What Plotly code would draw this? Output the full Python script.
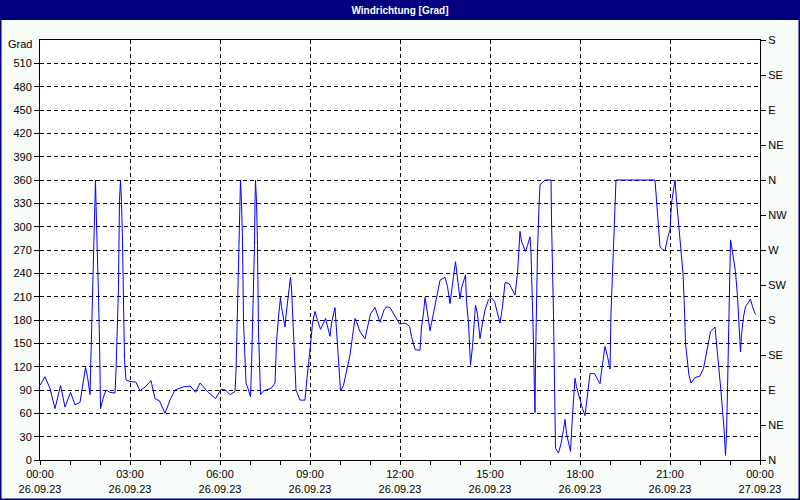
import pandas as pd
import plotly.graph_objects as go

# ---- data: minutes after 26.09.23 00:00 and wind direction in degrees ----
minutes = [
    0, 10, 20, 30, 41, 50, 61, 70, 80, 85, 91, 95, 100, 101, 103, 105, 107, 109, 111, 112,
    115, 117, 119, 120, 121, 127, 132, 140, 150, 152, 155, 157, 158, 159, 161, 163, 165, 167,
    169, 172, 180, 192, 200, 212, 222, 230, 239, 250, 260, 270, 287, 300,
    302, 311, 320, 335, 351, 362, 371, 380, 390, 392, 394, 396, 398, 399, 401, 403, 405, 407,
    410, 412, 417, 421, 423, 425, 427, 429, 430, 431, 433, 435, 437, 439, 441, 447, 462, 470,
    473, 477, 481, 483, 487, 490, 492, 497, 501, 503, 506, 509, 512, 520, 530, 533, 537, 541,
    545, 550, 554, 561, 571, 575, 580, 583,
    590, 593, 597, 601, 607, 613, 620, 625, 630, 633, 640, 650, 657, 661, 670, 680, 688, 693,
    700, 710, 719, 730, 739, 743, 750, 760, 763, 767, 770, 773, 777, 780, 783, 790, 795, 800,
    810, 815, 820, 823, 827, 831, 833, 837, 840, 843, 851, 853, 857, 860, 861, 865, 868, 871,
    875,
    880, 885, 890, 897, 902, 909, 913, 920, 925, 930, 938, 945, 950, 955, 957, 960, 963, 971,
    975, 980, 982, 985, 987, 989, 990, 991, 993, 995, 998, 1000, 1007, 1010, 1022, 1023, 1027,
    1029, 1031, 1037, 1042, 1047, 1050, 1053, 1059, 1061, 1065, 1067, 1070, 1073, 1080, 1085,
    1090, 1095, 1100, 1109, 1115, 1120, 1123, 1127, 1130, 1135, 1140, 1142, 1145, 1147, 1150,
    1152,
    1230, 1233, 1237, 1240, 1245, 1250, 1255, 1260, 1263, 1267, 1270, 1273, 1278, 1282, 1286,
    1289, 1291, 1295, 1298, 1302, 1310, 1320, 1327, 1331, 1337, 1341, 1350, 1353, 1358, 1362,
    1365, 1368, 1371, 1373, 1375, 1377, 1379, 1381, 1383, 1387, 1391, 1395, 1398, 1401, 1403,
    1407, 1411, 1417, 1421, 1425, 1431,
]
degrees = [
    96, 107, 92, 66, 96, 68, 87, 71, 74, 94, 119, 107, 84, 111, 165, 221, 276, 330, 360, 330,
    272, 210, 154, 94, 66, 81, 90, 87, 86, 114, 167, 223, 281, 334, 360, 332, 281, 180,
    129, 103, 101, 100, 89, 95, 102, 79, 76, 60, 77, 90, 94, 95,
    94, 87, 99, 88, 79, 91, 90, 84, 88, 114, 167, 223, 279, 332, 360, 332, 281, 178,
    126, 99, 90, 81, 120, 167, 221, 276, 332, 360, 332, 276, 165, 109, 84, 89, 92, 99,
    152, 184, 209, 197, 182, 171, 186, 214, 235, 221, 171, 124, 90, 77, 77, 99, 129, 148,
    176, 191, 182, 168, 182, 171, 159, 176,
    196, 167, 120, 89, 96, 114, 135, 159, 182, 178, 165, 156, 178, 188, 196, 177, 193, 197,
    196, 185, 175, 176, 172, 159, 142, 141, 171, 189, 209, 197, 180, 166, 176, 197, 214, 231,
    235, 223, 201, 219, 236, 255, 242, 223, 207, 221, 238, 204, 176, 146, 122, 146, 176, 199,
    188,
    156, 176, 193, 206, 209, 204, 193, 176, 197, 228, 227, 219, 212, 240, 270, 294, 281, 268,
    276, 287, 266, 210, 150, 82, 61, 124, 210, 270, 326, 354, 358, 360, 360, 309, 186,
    120, 15, 9, 21, 39, 52, 34, 19, 11, 58, 77, 105, 94, 77, 66,
    57, 81, 111, 111, 103, 98, 114, 133, 146, 133, 117, 189, 240, 296, 336,
    360,
    360, 332, 300, 274, 271, 269, 285, 296, 330, 347, 360, 334, 300, 266, 240,
    193, 150, 126, 109, 99, 106, 108, 118, 131, 150, 165, 171, 152, 120, 88,
    64, 41, 6, 34, 90, 144, 197, 283, 276, 261, 242, 210, 178, 139, 161,
    184, 197, 204, 207, 197, 187,
]

left_ticks = list(range(0, 540, 30))
compass_vals = list(range(0, 541, 45))
compass_text = ["N", "NE", "E", "SE", "S", "SW", "W", "NW", "N", "NE", "E", "SE", "S"]

start = pd.Timestamp("2023-09-26 00:00")
times = [start + pd.Timedelta(minutes=m) for m in minutes]

NAVY = "#000080"
FONT = "Liberation Sans, Arial, sans-serif"

fig = go.Figure()
fig.add_trace(go.Scatter(x=times, y=degrees, mode="lines",
                         line=dict(color="#0000ff", width=1), showlegend=False))
# empty trace so that the right-hand compass axis is drawn
fig.add_trace(go.Scatter(x=[], y=[], yaxis="y2", mode="lines", showlegend=False,
                         hoverinfo="skip"))

fig.update_layout(
    width=800, height=500,
    margin=dict(l=40, r=40, t=40, b=40, autoexpand=False),
    paper_bgcolor="#f8fcf8",
    plot_bgcolor="#ffffff",
    font=dict(family=FONT, size=11, color="#000000"),
    title=dict(text="<b>Windrichtung [Grad]</b>", x=0.5, xanchor="center",
               y=0.98, yanchor="middle", yref="container",
               font=dict(family="Liberation Sans Narrow, " + FONT, size=10, color="#ffffff")),
    xaxis=dict(
        type="date",
        range=[start, start + pd.Timedelta(hours=24)],
        dtick=3 * 3600000,
        tick0=start,
        tickformat="%H:%M<br>%d.%m.%y",
        ticks="outside", ticklen=4, tickcolor="#000000",
        showline=True, linecolor="#000000", linewidth=1, mirror=True,
        showgrid=True, gridcolor="#000000", gridwidth=1, griddash="4px,3px",
        minor=dict(dtick=3600000, ticks="outside", ticklen=4, tickcolor="#000000", showgrid=False),
        zeroline=False, fixedrange=True, automargin=False,
    ),
    yaxis=dict(
        range=[0, 540],
        tickvals=left_ticks,
        ticks="outside", ticklen=5, tickcolor="#000000",
        showline=True, linecolor="#000000", linewidth=1,
        showgrid=True, gridcolor="#000000", gridwidth=1, griddash="4px,3px",
        zeroline=False, automargin=False,
    ),
    yaxis2=dict(
        range=[0, 540], overlaying="y", side="right",
        tickvals=compass_vals, ticktext=compass_text,
        ticks="outside", ticklen=5, tickcolor="#000000",
        showline=True, linecolor="#000000", linewidth=1,
        showgrid=False, zeroline=False, automargin=False,
    ),
    shapes=[
        dict(type="rect", xref="paper", yref="paper", layer="below",
             x0=-40 / 720, x1=1 + 40 / 720, y0=1 + 20 / 420, y1=1 + 40 / 420,
             fillcolor=NAVY, line=dict(width=0)),
        dict(type="rect", xref="paper", yref="paper", layer="above",
             x0=-40 / 720, x1=1 + 40 / 720, y0=-40 / 420, y1=1 + 40 / 420,
             fillcolor="rgba(0,0,0,0)", line=dict(color=NAVY, width=3)),
    ],
    annotations=[
        dict(text="Grad", xref="paper", yref="paper", x=0, y=1, xanchor="right",
             yanchor="middle", xshift=-6, yshift=-4, showarrow=False,
             font=dict(family=FONT, size=11, color="#000000")),
    ],
)

fig.write_html("out.html",
               config={"displayModeBar": False},
               post_script="document.body.style.margin='0';document.body.style.overflow='hidden';")
